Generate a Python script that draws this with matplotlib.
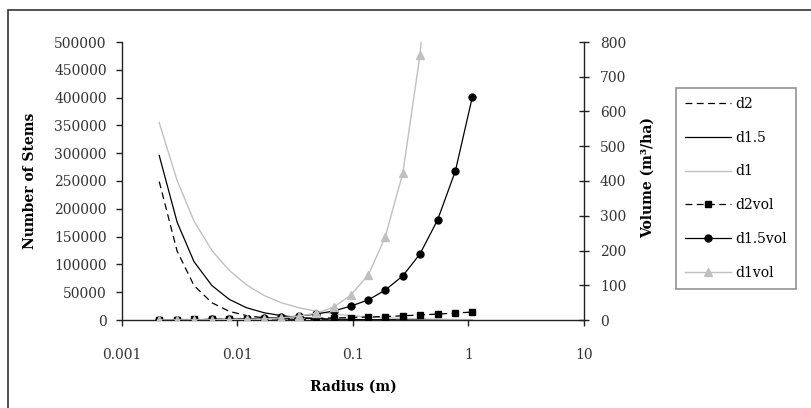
import matplotlib
matplotlib.use('Agg')
import matplotlib.pyplot as plt
from matplotlib.patches import Rectangle

# radius of each size class (m)
radius = [0.0021, 0.003, 0.0042, 0.006, 0.0085, 0.012, 0.017, 0.024, 0.034, 0.048,
          0.068, 0.096, 0.136, 0.19, 0.27, 0.38, 0.54, 0.77, 1.08]

# number of stems
d2 = [249000, 124000, 62000, 31000, 15500, 7800, 3900, 1950, 980, 490,
      245, 122, 61, 31, 15, 8, 4, 2, 1]
d15 = [296000, 176000, 105000, 62000, 37000, 22000, 13000, 7800, 4600, 2700,
       1600, 980, 580, 350, 205, 120, 72, 43, 26]
d1 = [355000, 251000, 178000, 125000, 89000, 63000, 44000, 31000, 22000, 15700,
      11000, 7800, 5500, 3900, 2800, 2000, 1400, 980, 690]

# volume (m3/ha)
d2vol = [1.0, 1.2, 1.5, 1.8, 2.1, 2.5, 3.0, 3.5, 4.2, 5.0,
         6.0, 7.0, 8.5, 10, 12, 14.5, 17, 20, 23]
d15vol = [0.45, 0.7, 1.0, 1.5, 2.3, 3.4, 5.1, 7.7, 11.5, 17,
          26, 40, 58, 86, 127, 190, 288, 429, 642]
d1vol = [0.1, 0.17, 0.3, 0.55, 1.0, 1.8, 3.3, 6.0, 11, 20,
         37, 72, 130, 239, 423, 762, 1370, 2470, 4440]

xticks = [0.001, 0.01, 0.1, 1, 10]
xticklabels = ['0.001', '0.01', '0.1', '1', '10']
left_ticks = [0, 50000, 100000, 150000, 200000, 250000, 300000, 350000, 400000, 450000, 500000]
right_ticks = [0, 100, 200, 300, 400, 500, 600, 700, 800]

plt.rcParams['font.family'] = 'DejaVu Serif'
plt.rcParams['font.size'] = 10

W, H = 812, 408
fig = plt.figure(figsize=(W / 100, H / 100), dpi=100)
ax = fig.add_axes([122 / W, 1 - 320 / H, (584 - 122) / W, (320 - 42) / H])
ax2 = ax.twinx()

gray = '#c0c0c0'
axc = '#222222'
dash = (5.5, 3.5)

l1, = ax.plot(radius, d2, color='black', lw=0.9, dashes=dash, label='d2')
l2, = ax.plot(radius, d15, color='black', lw=0.9, label='d1.5')
l3, = ax.plot(radius, d1, color=gray, lw=1.0, label='d1')

l4, = ax2.plot(radius, d2vol, color='black', lw=0.9, dashes=dash, marker='s',
               markersize=5, label='d2vol')
l5, = ax2.plot(radius, d15vol, color='black', lw=0.9, marker='o', markersize=5,
               label='d1.5vol')
l6, = ax2.plot(radius, d1vol, color=gray, lw=1.0, marker='^', markersize=6,
               label='d1vol')

ax.set_xscale('log')
ax.set_xlim(0.001, 10)
ax.set_ylim(0, 500000)
ax2.set_ylim(0, 800)
ax.set_xticks(xticks)
ax.set_xticklabels(xticklabels)
ax.minorticks_off()
ax2.minorticks_off()
ax.set_yticks(left_ticks)
ax.set_yticklabels([str(v) for v in left_ticks])
ax2.set_yticks(right_ticks)
ax2.set_yticklabels([str(v) for v in right_ticks])

for a in (ax, ax2):
    a.spines['top'].set_visible(False)
    for s in a.spines.values():
        s.set_color(axc)
        s.set_linewidth(1.0)
ax.spines['right'].set_visible(False)
ax2.spines['left'].set_visible(False)
ax2.spines['bottom'].set_visible(False)

ax.tick_params(axis='y', direction='out', length=4, width=1, color=axc, pad=7,
               labelcolor='#333333')
ax.tick_params(axis='x', direction='out', length=4, width=1, color=axc, pad=16,
               labelcolor='#333333')
ax2.tick_params(axis='y', direction='inout', length=7, width=1, color=axc, pad=8,
                labelcolor='#333333')

fig.text(30 / W, 1 - 181 / H, 'Number of Stems', rotation=90, ha='center',
         va='center', fontweight='bold', fontsize=10)
fig.text(648 / W, 1 - 178 / H, 'Volume (m³/ha)', rotation=90, ha='center',
         va='center', fontweight='bold', fontsize=10)
fig.text(353 / W, 1 - 387 / H, 'Radius (m)', ha='center', va='center',
         fontweight='bold', fontsize=10)

leg = fig.legend([l1, l2, l3, l4, l5, l6], ['d2', 'd1.5', 'd1', 'd2vol', 'd1.5vol', 'd1vol'],
                 loc='upper left', bbox_to_anchor=(676 / W, 1 - 88 / H),
                 bbox_transform=fig.transFigure, borderaxespad=0, fancybox=False,
                 handlelength=3.3, handletextpad=0.3, labelspacing=1.42,
                 borderpad=0.65, fontsize=10)
leg.get_frame().set_edgecolor('#777777')
leg.get_frame().set_linewidth(1.2)

fig.patches.append(Rectangle((8 / W, -0.1), 1.2, 1.1 - 10 / H, transform=fig.transFigure,
                             fill=False, edgecolor='#333333', lw=1.2))

fig.savefig('out.png', dpi=100)
